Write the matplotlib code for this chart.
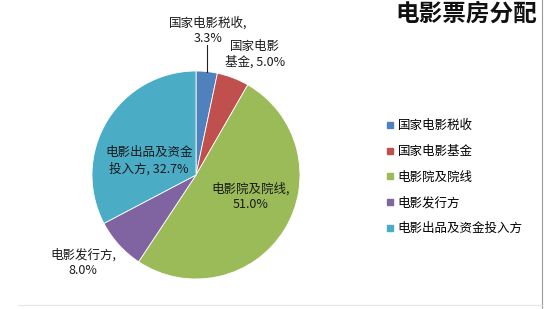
import matplotlib
matplotlib.use("Agg")
import matplotlib.pyplot as plt
from matplotlib.lines import Line2D
import numpy as np

plt.rcParams['font.family'] = ['Noto Sans CJK SC', 'DejaVu Sans']

# data
names = ['国家电影税收', '国家电影基金', '电影院及院线', '电影发行方', '电影出品及资金投入方']
shares = [3.3, 5.0, 51.0, 8.0, 32.7]
colors = ['#4F81BD', '#C0504D', '#9BBB59', '#8064A2', '#4BACC6']
label_fmt = ['国家电影税收,\n{:.1f}%', '国家电影\n基金, {:.1f}%', '电影院及院线,\n{:.1f}%',
             '电影发行方,\n{:.1f}%', '电影出品及资金\n投入方, {:.1f}%']
label_pos = [(0.115, 1.39), (0.567, 1.163), (0.529, -0.21), (-1.087, -0.846), (-0.452, 0.135)]

fig = plt.figure(figsize=(5.47, 3.09), dpi=100)
W, H = 547, 309
cx, cy, r = 196, 175, 104
ax = fig.add_axes([(cx - r) / W, (H - cy - r) / H, 2 * r / W, 2 * r / H])

wedges, _ = ax.pie(shares, colors=colors, startangle=90, counterclock=False,
                   radius=1, wedgeprops=dict(edgecolor='white', linewidth=0.6))
ax.set_xlim(-1, 1)
ax.set_ylim(-1, 1)
ax.set_aspect('equal')
ax.axis('off')

for v, fmt, (x, y) in zip(shares, label_fmt, label_pos):
    ax.text(x, y, fmt.format(v), ha='center', va='center', fontsize=9,
            color='#1a1a1a', linespacing=1.25, clip_on=False)

# leader line for the small slice
mid = np.deg2rad(90 - shares[0] / 100 * 360 / 2)
ax.plot([np.cos(mid), np.cos(mid)], [np.sin(mid), 1.25], color='#222222', lw=0.8, clip_on=False)

fig.text(466 / W, 1 - 14 / H, '电影票房分配', ha='center', va='center',
         fontsize=17, fontweight='bold', color='#111111')

handles = [Line2D([], [], marker='s', ls='none', markersize=5, markerfacecolor=c,
                  markeredgecolor=c) for c in colors]
fig.legend(handles, names, loc='upper left', bbox_to_anchor=(380 / W, 1 - 113 / H),
           frameon=False, fontsize=9, handlelength=0.6, handletextpad=0.3,
           labelspacing=1.02, borderpad=0)

# chart frame remnants
fig.add_artist(Line2D([542 / W, 542 / W], [0, 1], color='#9a9a9a', lw=0.8))
fig.add_artist(Line2D([18 / W, 542 / W], [1 - 305 / H, 1 - 305 / H], color='#e6e6e6', lw=0.8))

fig.savefig('out.png', dpi=100, facecolor='white')
